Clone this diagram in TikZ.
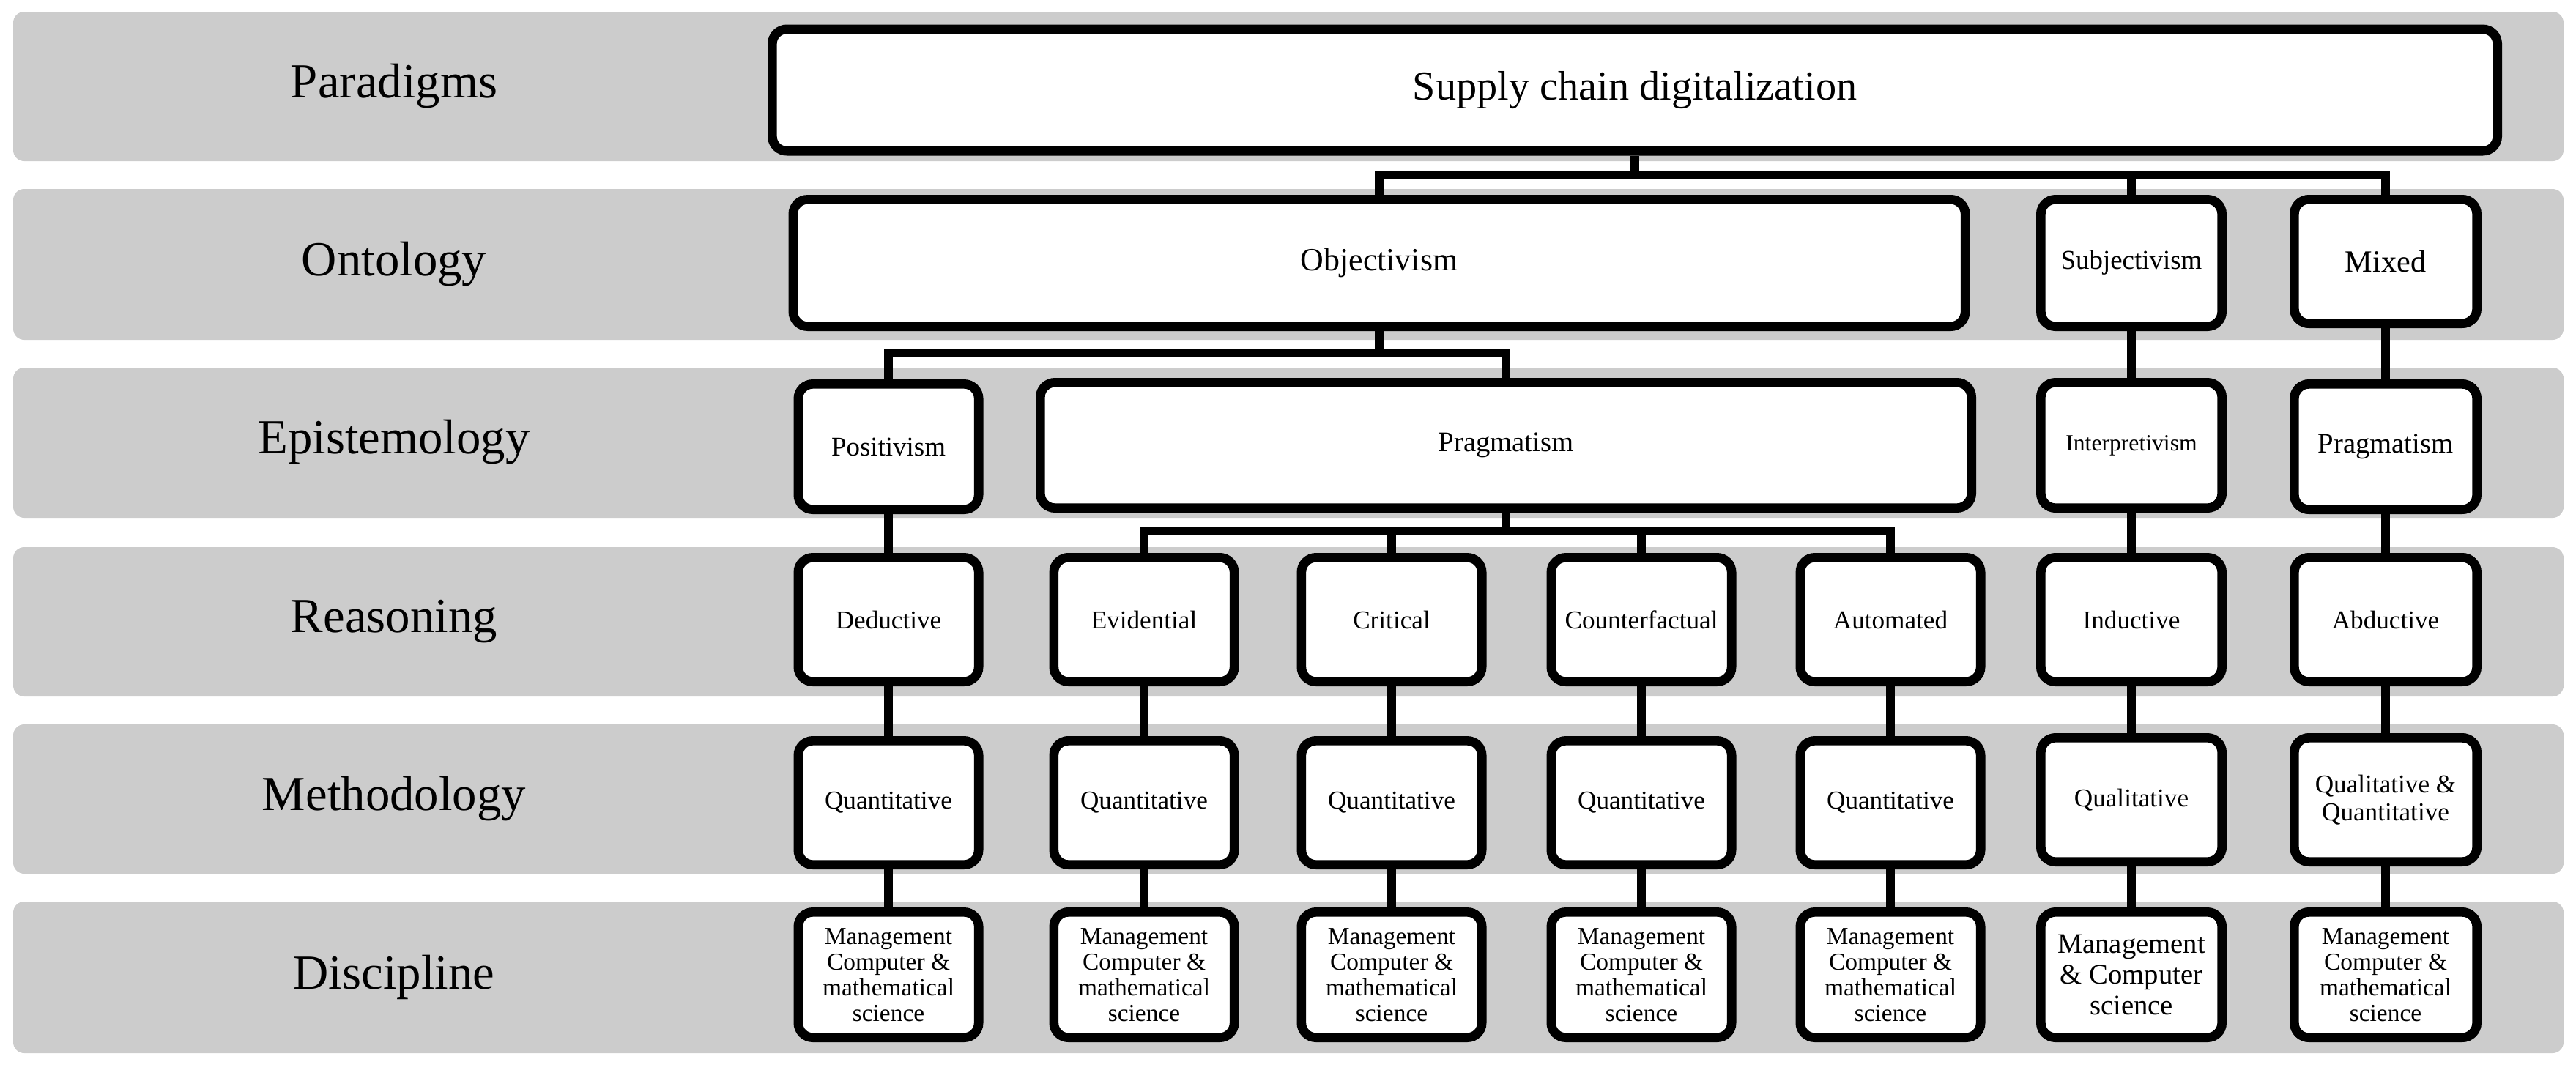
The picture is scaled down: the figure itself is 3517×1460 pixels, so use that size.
\documentclass[tikz,border=0pt]{standalone}
\usepackage{fontspec}
\setmainfont{Liberation Serif}
\begin{document}
\begin{tikzpicture}[x=0.01cm,y=-0.01cm,
  band/.style={fill=black!20,draw=none,rounded corners=0.15cm},
  lbl/.style={font=\fontsize{19}{22}\selectfont},
  bx/.style={draw=black,line width=3.6pt,fill=white,rounded corners=0.2cm,align=center,inner sep=1pt},
  conn/.style={line width=3.5pt}]
\useasboundingbox (0,0) rectangle (3517,1460);
% bands
\foreach \a/\b in {16/220,258/464,502/707,747/951,989/1193,1231/1438}
  \fill[band] (18,\a) rectangle (3500,\b);
\node[lbl] (L1) at (538,118) {Paradigms};
\node[lbl] (L2) at (538,361) {Ontology};
\node[lbl] (L3) at (538,604) {Epistemology};
\node[lbl] (L4) at (538,849) {Reasoning};
\node[lbl] (L5) at (538,1091) {Methodology};
\node[lbl] (L6) at (538,1334) {Discipline};
% connectors first (behind boxes)
\coordinate (b1) at (2232,239);
\coordinate (b2) at (1883,482);
\coordinate (b3) at (2056,725);
\newcommand\mybox[7]{\node[bx,minimum width=#4*0.01cm-3.6pt,minimum height=#5*0.01cm-3.6pt,font=#7] (#1) at (#2,#3) {#6};}
\mybox{scd}{2232}{123}{2368}{179}{Supply chain digitalization}{\fontsize{16}{19}\selectfont}
\mybox{obj}{1883}{359}{1613}{186}{Objectivism}{\fontsize{12.5}{15}\selectfont}
\mybox{subj}{2910}{359}{260}{186}{Subjectivism}{\fontsize{10.5}{13}\selectfont}
\mybox{mix}{3257}{357}{262}{182}{Mixed}{\fontsize{12}{14}\selectfont}
\mybox{pos}{1213}{610}{259}{184}{Positivism}{\fontsize{10.5}{13}\selectfont}
\mybox{prag}{2056}{608}{1284}{184}{Pragmatism}{\fontsize{11}{13}\selectfont}
\mybox{interp}{2910}{608}{260}{184}{Interpretivism}{\fontsize{9}{11}\selectfont}
\mybox{prag2}{3257}{610}{262}{184}{Pragmatism}{\fontsize{11}{13}\selectfont}
\def\rf{\fontsize{10}{12}\selectfont}
\def\df{\fontsize{9.5}{10}\selectfont}
\foreach \n/\x/\r/\m/\d in {c1/1213/Deductive/Quantitative/{Management\\Computer \&\\mathematical\\science},
  c2/1562/Evidential/Quantitative/{Management\\Computer \&\\mathematical\\science},
  c3/1900/Critical/Quantitative/{Management\\Computer \&\\mathematical\\science},
  c4/2241/Counterfactual/Quantitative/{Management\\Computer \&\\mathematical\\science},
  c5/2581/Automated/Quantitative/{Management\\Computer \&\\mathematical\\science}}{
  \mybox{r\n}{\x}{846}{259}{182}{\r}{\rf}
  \mybox{m\n}{\x}{1096}{259}{182}{\m}{\rf}
  \mybox{d\n}{\x}{1331}{259}{184}{\d}{\df}
}
\mybox{rc6}{2910}{846}{260}{182}{Inductive}{\rf}
\mybox{mc6}{2910}{1092}{260}{182}{Qualitative}{\rf}
\mybox{dc6}{2910}{1331}{260}{184}{Management\\\& Computer\\science}{\fontsize{11}{12}\selectfont}
\mybox{rc7}{3257}{846}{262}{182}{Abductive}{\rf}
\mybox{mc7}{3257}{1092}{262}{182}{Qualitative \&\\Quantitative}{\fontsize{10}{11}\selectfont}
\mybox{dc7}{3257}{1331}{262}{184}{Management\\Computer \&\\mathematical\\science}{\df}
\draw[conn] (scd.south) -- (b1);
\draw[conn] (obj.north) |- (b1);
\draw[conn] (subj.north) |- (b1);
\draw[conn] (mix.north) |- (b1);
\draw[conn] (obj.south) -- (b2);
\draw[conn] (pos.north) |- (b2);
\draw[conn] (prag.north) |- (b2);
\draw[conn] (prag.south) -- (b3);
\foreach \n in {c2,c3,c4,c5} \draw[conn] (r\n.north) |- (b3);
\draw[conn] (pos) -- (rc1);
\draw[conn] (subj) -- (interp);
\draw[conn] (interp) -- (rc6);
\draw[conn] (mix) -- (prag2);
\draw[conn] (prag2) -- (rc7);
\foreach \n in {c1,c2,c3,c4,c5,c6,c7}{
  \draw[conn] (r\n) -- (m\n);
  \draw[conn] (m\n) -- (d\n);}
\end{tikzpicture}
\end{document}
